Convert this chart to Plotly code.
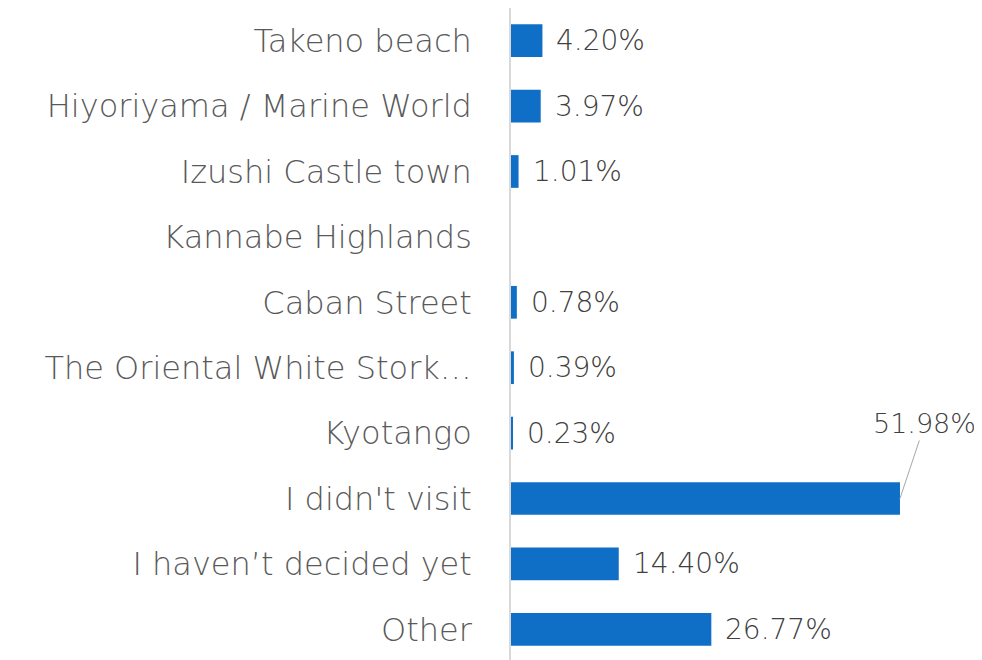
import plotly.graph_objects as go

categories = ["Takeno beach", "Hiyoriyama / Marine World", "Izushi Castle town",
              "Kannabe Highlands", "Caban Street", "The Oriental White Stork…",
              "Kyotango", "I didn't visit", "I haven’t decided yet", "Other"]
values = [4.20, 3.97, 1.01, 0.0, 0.78, 0.39, 0.23, 51.98, 14.40, 26.77]
labels = ["4.20%", "3.97%", "1.01%", "", "0.78%", "0.39%", "0.23%", "51.98%", "14.40%", "26.77%"]

FONT = "DejaVu Sans"
fig = go.Figure(go.Bar(
    x=values, y=categories, orientation="h",
    marker=dict(color="#0F6FC6", line=dict(width=0)),
    hoverinfo="skip",
))

annotations = []
for c, v, t in zip(categories, values, labels):
    if not t:
        continue
    if c == "I didn't visit":
        annotations.append(dict(x=v, y=c, xref="x", yref="y", text=t, showarrow=True,
                                arrowhead=0, arrowwidth=1, arrowcolor="#A6A6A6",
                                ax=25, ay=-75, xanchor="center", yanchor="middle",
                                font=dict(family=FONT, size=27, color="#404040", weight=200)))
    else:
        annotations.append(dict(x=v, y=c, xref="x", yref="y", text=t, showarrow=False,
                                xanchor="left", yanchor="middle", xshift=12,
                                font=dict(family=FONT, size=28, color="#404040", weight=200)))

fig.update_layout(
    width=982, height=660,
    margin=dict(l=503, r=30, t=0, b=6, autoexpand=False),
    paper_bgcolor="white", plot_bgcolor="white",
    bargap=0.5,
    showlegend=False,
    annotations=annotations,
    xaxis=dict(range=[0, 60], visible=False, showgrid=False, zeroline=False, automargin=False),
    yaxis=dict(autorange="reversed", showgrid=False, zeroline=False, automargin=False,
               showline=True, linecolor="#D9D9D9", linewidth=1.5,
               ticks="", ticklabelstandoff=31,
               tickfont=dict(family=FONT, size=32, color="#595959", weight=200)),
)

fig.write_html("out.html")
